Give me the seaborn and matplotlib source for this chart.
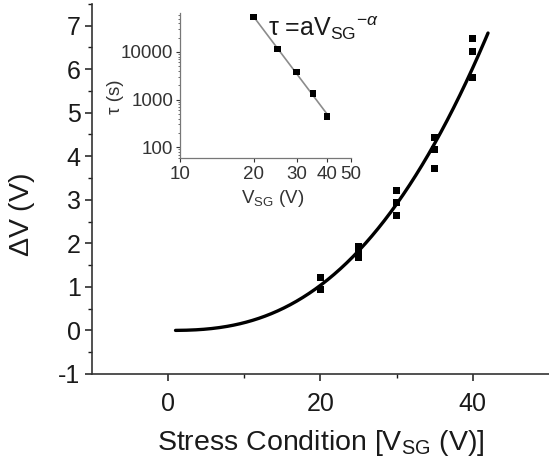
import matplotlib
matplotlib.use("Agg")
import matplotlib.pyplot as plt
import numpy as np
import pandas as pd
import seaborn as sns
from matplotlib.ticker import FixedLocator, MultipleLocator, NullFormatter, LogLocator

# main panel: threshold shift vs stress voltage
stress_v = [20, 20, 25, 25, 25, 30, 30, 30, 35, 35, 35, 40, 40, 40]
delta_v = [1.21, 0.93, 1.92, 1.80, 1.68, 3.21, 2.93, 2.63, 4.42, 4.15, 3.71, 6.70, 6.41, 5.80]

# inset: time constant vs stress voltage
inset_v = [20, 25, 30, 35, 40]
inset_tau = [53600, 11550, 3830, 1333, 443]

sns.set_theme(style="ticks")
plt.rcParams["font.family"] = ["Liberation Sans", "DejaVu Sans"]
plt.rcParams["mathtext.fontset"] = "custom"
plt.rcParams["mathtext.rm"] = "Liberation Sans"
plt.rcParams["mathtext.it"] = "Liberation Sans:italic"
plt.rcParams["mathtext.sf"] = "Liberation Sans"
plt.rcParams["axes.unicode_minus"] = False
dark = "#1a1a1a"

fig = plt.figure(figsize=(5.49, 4.71), dpi=100)
ax = fig.add_axes([0.167, 0.206, 0.833, 0.786])

df = pd.DataFrame({"V": stress_v, "dV": delta_v})
sns.scatterplot(data=df, x="V", y="dV", marker="s", color="black",
                s=26, edgecolor="none", ax=ax, zorder=3)

# power-law fit drawn as the solid curve
b, log_a = np.polyfit(np.log(df["V"]), np.log(df["dV"]), 1)
v_fit = np.linspace(1, 42, 200)
fit_df = pd.DataFrame({"V": v_fit, "dV": np.exp(log_a) * v_fit ** b})
sns.lineplot(data=fit_df, x="V", y="dV", color="black", lw=2.4, ax=ax)

ax.set_xlim(-10, 50)
ax.set_ylim(-1, 7.5)
ax.xaxis.set_major_locator(FixedLocator([0, 20, 40]))
ax.xaxis.set_minor_locator(FixedLocator([10, 30]))
ax.yaxis.set_major_locator(MultipleLocator(1))
ax.yaxis.set_minor_locator(MultipleLocator(0.5))
ax.tick_params(which="major", direction="out", length=5, width=1.1,
               labelsize=18, colors=dark, pad=3)
ax.tick_params(axis="x", which="major", pad=8)
ax.tick_params(which="minor", direction="out", length=3, width=1.0, colors=dark)
sns.despine(ax=ax)
for s in ["left", "bottom"]:
    ax.spines[s].set_color("#333333")
    ax.spines[s].set_linewidth(1.2)
ax.set_xlabel(r"Stress Condition [V$_\mathrm{SG}$ (V)]", fontsize=20.5, color=dark)
ax.set_ylabel(r"$\Delta$V (V)", fontsize=20.5, color=dark)
ax.xaxis.set_label_coords(0.5, -0.145)
ax.yaxis.set_label_coords(-0.12, 0.43)

# inset log-log plot
ins = fig.add_axes([0.328, 0.665, 0.311, 0.307])
ins_df = pd.DataFrame({"V": inset_v, "tau": inset_tau})
bi, log_ai = np.polyfit(np.log10(ins_df["V"]), np.log10(ins_df["tau"]), 1)
vv = np.array([20, 40])
line_df = pd.DataFrame({"V": vv, "tau": 10 ** log_ai * vv ** bi})
sns.lineplot(data=line_df, x="V", y="tau", color="#8c8c8c", lw=1.2, ax=ins)
sns.scatterplot(data=ins_df, x="V", y="tau", marker="s", color="black",
                s=22, edgecolor="none", ax=ins, zorder=3)
ins.set_xscale("log")
ins.set_yscale("log")
ins.set_xlim(10, 50)
ins.set_ylim(60, 65000)
ins.xaxis.set_major_locator(FixedLocator([10, 20, 30, 40, 50]))
ins.xaxis.set_minor_locator(FixedLocator([]))
ins.xaxis.set_major_formatter(matplotlib.ticker.FixedFormatter(["10", "20", "30", "40", "50"]))
ins.yaxis.set_major_locator(FixedLocator([100, 1000, 10000]))
ins.yaxis.set_major_formatter(matplotlib.ticker.FixedFormatter(["100", "1000", "10000"]))
ins.yaxis.set_minor_locator(LogLocator(base=10, subs=np.arange(2, 10) / 1.0))
ins.yaxis.set_minor_formatter(NullFormatter())
ins.tick_params(which="major", direction="out", length=3, width=0.8,
                labelsize=13.5, colors="#333333", pad=2)
ins.tick_params(axis="x", which="major", pad=3)
ins.tick_params(which="minor", direction="out", length=1.5, width=0.6, colors="#555555")
sns.despine(ax=ins)
for s in ["left", "bottom"]:
    ins.spines[s].set_color("#777777")
    ins.spines[s].set_linewidth(0.9)
ins.set_xlabel(r"V$_\mathrm{SG}$ (V)", fontsize=13.5, color="#333333")
ins.set_ylabel("τ (s)", fontsize=13.5, color="#333333")
ins.xaxis.set_label_coords(0.54, -0.21)
ins.yaxis.set_label_coords(-0.33, 0.42)
ins.patch.set_alpha(0)

fig.text(0.488, 0.925, r"τ =aV$_\mathrm{SG}{}^{-\alpha}$", fontsize=18, color=dark)

fig.savefig("out.png", dpi=100)
